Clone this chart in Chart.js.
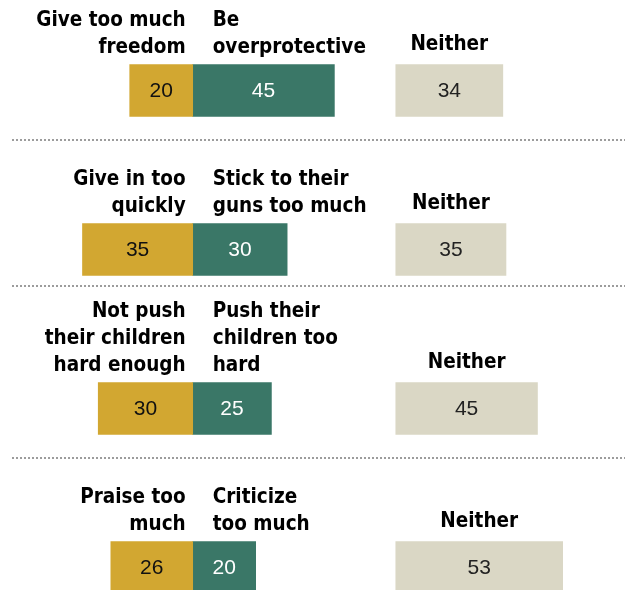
<!DOCTYPE html>
<html>
<head>
<meta charset="utf-8">
<script src="https://cdn.jsdelivr.net/npm/chart.js@4"></script>
<style>
  html, body { margin: 0; padding: 0; background: #ffffff; overflow: hidden; }
  #wrap { width: 625px; height: 590px; overflow: hidden; }
</style>
</head>
<body>
<div id="wrap"><canvas id="chart" width="625" height="647"></canvas></div>
<script>
// Datos de la figura
const rows = ['freedom', 'discipline', 'pushing', 'praise'];
const firstLabels = [['Give too much', 'freedom'], ['Give in too', 'quickly'], ['Not push', 'their children', 'hard enough'], ['Praise too', 'much']];
const secondLabels = [['Be', 'overprotective'], ['Stick to their', 'guns too much'], ['Push their', 'children too', 'hard'], ['Criticize', 'too much']];
const neitherLabel = 'Neither';
const firstValues = [20, 35, 30, 26];
const secondValues = [45, 30, 25, 20];
const neitherValues = [34, 35, 45, 53];

const YELLOW = '#D2A731';
const TEAL = '#3A7767';
const BEIGE = '#DAD7C5';
const LABEL_FONT = 'bold 20.5px "DejaVu Sans Condensed", "Liberation Sans Narrow", Arial, sans-serif';
const VALUE_FONT = '21px "Liberation Sans", Arial, sans-serif';
const LINE_H = 27;

// Dibuja los textos de categoría, los valores y las líneas punteadas
const labelPlugin = {
    id: 'labels',
    afterDatasetsDraw(chart) {
        const ctx = chart.ctx;
        const first = chart.getDatasetMeta(0).data;
        const second = chart.getDatasetMeta(1).data;
        const neither = chart.getDatasetMeta(2).data;
        const textColors = ['#111111', '#ffffff', '#222222'];
        ctx.save();

        // valores dentro de las barras
        ctx.font = VALUE_FONT;
        ctx.textAlign = 'center';
        ctx.textBaseline = 'middle';
        [first, second, neither].forEach(function(bars, d) {
            const values = [firstValues, secondValues, neitherValues][d];
            bars.forEach(function(bar, i) {
                ctx.fillStyle = textColors[d];
                ctx.fillText(String(values[i]), (bar.x + bar.base) / 2, bar.y + 1);
            });
        });

        // etiquetas encima de las barras
        ctx.font = LABEL_FONT;
        ctx.fillStyle = '#000000';
        ctx.textBaseline = 'alphabetic';
        const labelTops = [];
        rows.forEach(function(r, i) {
            const top = first[i].y - first[i].height / 2;
            const base = first[i].base;
            const lastBase = top - 12;
            ctx.textAlign = 'right';
            firstLabels[i].forEach(function(line, k) {
                ctx.fillText(line, base - 7, lastBase - (firstLabels[i].length - 1 - k) * LINE_H);
            });
            ctx.textAlign = 'left';
            secondLabels[i].forEach(function(line, k) {
                ctx.fillText(line, base + 20, lastBase - (secondLabels[i].length - 1 - k) * LINE_H);
            });
            ctx.textAlign = 'center';
            const nb = neither[i];
            ctx.fillText(neitherLabel, (nb.x + nb.base) / 2, top - 15);
            const lines = Math.max(firstLabels[i].length, secondLabels[i].length);
            labelTops.push(lastBase - (lines - 1) * LINE_H - 15);
        });

        // separadores punteados
        ctx.strokeStyle = '#9c9c9c';
        ctx.lineWidth = 2;
        ctx.setLineDash([2, 2]);
        for (let i = 1; i < rows.length; i++) {
            const prevBottom = first[i - 1].y + first[i - 1].height / 2;
            const y = Math.round((prevBottom + labelTops[i]) / 2) - 3;
            ctx.beginPath();
            ctx.moveTo(12, y);
            ctx.lineTo(chart.width, y);
            ctx.stroke();
        }
        ctx.restore();
    }
};

const ctx = document.getElementById('chart').getContext('2d');
const chart = new Chart(ctx, {
    type: 'bar',
    data: {
        labels: rows,
        datasets: [
            {
                label: 'first',
                data: firstValues.map(v => -v),
                backgroundColor: YELLOW,
                xAxisID: 'x'
            },
            {
                label: 'second',
                data: secondValues,
                backgroundColor: TEAL,
                xAxisID: 'x'
            },
            {
                label: 'neither',
                data: neitherValues,
                backgroundColor: BEIGE,
                xAxisID: 'x2'
            }
        ]
    },
    options: {
        indexAxis: 'y',
        responsive: false,
        animation: false,
        devicePixelRatio: 1,
        layout: { padding: { top: 11, bottom: 0, left: 0, right: 0 } },
        datasets: {
            bar: { grouped: false, barThickness: 52, borderWidth: 0 }
        },
        plugins: {
            legend: { display: false },
            tooltip: { enabled: false }
        },
        scales: {
            y: { display: false, grid: { display: false } },
            x: { display: false, min: -61.2, max: 137.3, grid: { display: false } },
            x2: { type: 'linear', axis: 'x', display: false, min: -125.7, max: 72.8, grid: { display: false } }
        }
    },
    plugins: [labelPlugin]
});
</script>
</body>
</html>
